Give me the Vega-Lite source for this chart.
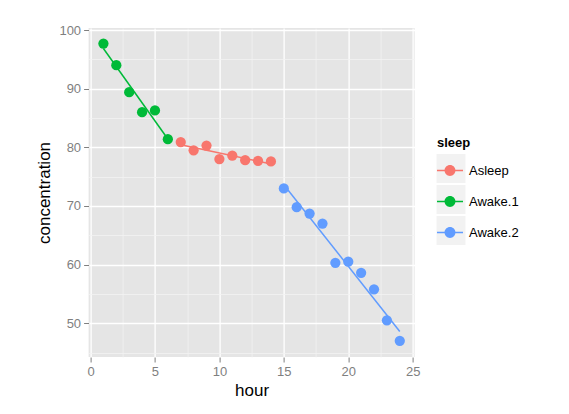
{
  "$schema": "https://vega.github.io/schema/vega-lite/v6.json",
  "width": 326,
  "height": 329,
  "autosize": {"type": "none"},
  "padding": {"left": 88.6, "top": 28, "right": 154.4, "bottom": 57},
  "background": "white",
  "data": {
    "values": [
      {"hour": 1, "concentration": 97.7, "sleep": "Awake.1"},
      {"hour": 2, "concentration": 94.0, "sleep": "Awake.1"},
      {"hour": 3, "concentration": 89.4, "sleep": "Awake.1"},
      {"hour": 4, "concentration": 86.0, "sleep": "Awake.1"},
      {"hour": 5, "concentration": 86.3, "sleep": "Awake.1"},
      {"hour": 6, "concentration": 81.4, "sleep": "Awake.1"},
      {"hour": 7, "concentration": 80.9, "sleep": "Asleep"},
      {"hour": 8, "concentration": 79.5, "sleep": "Asleep"},
      {"hour": 9, "concentration": 80.3, "sleep": "Asleep"},
      {"hour": 10, "concentration": 78.0, "sleep": "Asleep"},
      {"hour": 11, "concentration": 78.6, "sleep": "Asleep"},
      {"hour": 12, "concentration": 77.8, "sleep": "Asleep"},
      {"hour": 13, "concentration": 77.7, "sleep": "Asleep"},
      {"hour": 14, "concentration": 77.6, "sleep": "Asleep"},
      {"hour": 15, "concentration": 73.0, "sleep": "Awake.2"},
      {"hour": 16, "concentration": 69.8, "sleep": "Awake.2"},
      {"hour": 17, "concentration": 68.7, "sleep": "Awake.2"},
      {"hour": 18, "concentration": 67.0, "sleep": "Awake.2"},
      {"hour": 19, "concentration": 60.3, "sleep": "Awake.2"},
      {"hour": 20, "concentration": 60.5, "sleep": "Awake.2"},
      {"hour": 21, "concentration": 58.6, "sleep": "Awake.2"},
      {"hour": 22, "concentration": 55.8, "sleep": "Awake.2"},
      {"hour": 23, "concentration": 50.5, "sleep": "Awake.2"},
      {"hour": 24, "concentration": 47.0, "sleep": "Awake.2"}
    ]
  },
  "layer": [
    {
      "mark": {"type": "point", "filled": true, "opacity": 1, "size": 0, "color": "#f2f2f2"},
      "encoding": {
        "x": {
          "field": "hour", "type": "quantitative",
          "scale": {"domain": [-0.15, 25.15], "nice": false, "zero": false},
          "axis": {"orient": "top", "values": [2.5, 7.5, 12.5, 17.5, 22.5], "grid": true, "gridColor": "#f2f2f2", "gridWidth": 0.8, "labels": false, "ticks": false, "domain": false, "title": null}
        },
        "y": {
          "field": "concentration", "type": "quantitative",
          "scale": {"domain": [44.25, 100.35], "nice": false, "zero": false},
          "axis": {"orient": "right", "values": [45, 55, 65, 75, 85, 95], "grid": true, "gridColor": "#f2f2f2", "gridWidth": 0.8, "labels": false, "ticks": false, "domain": false, "title": null}
        },
        "shape": {
          "field": "sleep", "type": "nominal",
          "scale": {"domain": ["Asleep", "Awake.1", "Awake.2"], "range": ["square", "square", "square"]},
          "legend": {
            "orient": "none", "legendX": 347.9, "legendY": 126,
            "title": null, "symbolSize": 841, "rowPadding": 2,
            "symbolFillColor": "#f2f2f2", "symbolStrokeColor": "transparent", "symbolStrokeWidth": 0, "symbolOpacity": 1,
            "labelExpr": "''", "labelOpacity": 0, "labelFontSize": 13, "padding": 0, "zindex": 1
          }
        }
      }
    },
    {
      "mark": {"type": "line", "strokeWidth": 1.5},
      "transform": [
        {"regression": "concentration", "on": "hour", "groupby": ["sleep"]}
      ],
      "encoding": {
        "x": {"field": "hour", "type": "quantitative", "axis": null},
        "y": {"field": "concentration", "type": "quantitative", "axis": null},
        "color": {
          "field": "sleep", "type": "nominal",
          "scale": {"range": ["#F8766D", "#00BA38", "#619CFF"]}
        }
      }
    },
    {
      "mark": {"type": "point", "filled": true, "opacity": 1, "size": 105},
      "encoding": {
        "x": {
          "field": "hour", "type": "quantitative",
          "axis": {"orient": "bottom", "values": [0, 5, 10, 15, 20, 25], "grid": true, "title": "hour", "titlePadding": 4, "labelFlush": false}
        },
        "y": {
          "field": "concentration", "type": "quantitative",
          "axis": {"orient": "left", "values": [50, 60, 70, 80, 90, 100], "grid": true, "title": "concentration", "titlePadding": 5}
        },
        "color": {
          "field": "sleep", "type": "nominal",
          "scale": {"range": ["#F8766D", "#00BA38", "#619CFF"]},
          "legend": {
            "orient": "none", "legendX": 348.4, "legendY": 108.5,
            "title": "sleep", "titleFontSize": 13, "titleFontWeight": "bold", "titleColor": "black", "titlePadding": 8,
            "labelFontSize": 13, "labelColor": "black", "labelOffset": 6,
            "symbolType": "M-1,-0.055L1,-0.055L1,0.055L-1,0.055Z M-0.42,0A0.42,0.42 0 1,1 0.42,0A0.42,0.42 0 1,1 -0.42,0Z",
            "symbolSize": 676, "rowPadding": 11, "padding": 0, "zindex": 2,
            "symbolStrokeWidth": 0, "symbolOpacity": 1
          }
        }
      }
    }
  ],
  "resolve": {"axis": {"x": "independent", "y": "independent"}},
  "config": {
    "font": "Liberation Sans",
    "view": {"fill": "#e5e5e5", "stroke": null},
    "axis": {
      "gridColor": "white", "gridWidth": 1.3, "domain": false,
      "tickColor": "#7f7f7f", "tickSize": 5, "tickWidth": 1,
      "labelColor": "#7f7f7f", "labelFontSize": 13, "labelPadding": 3,
      "titleFontSize": 17, "titleFontWeight": "normal", "titleColor": "black",
      "labelFont": "Liberation Sans", "titleFont": "Liberation Sans"
    },
    "legend": {"labelFont": "Liberation Sans", "titleFont": "Liberation Sans"}
  }
}
